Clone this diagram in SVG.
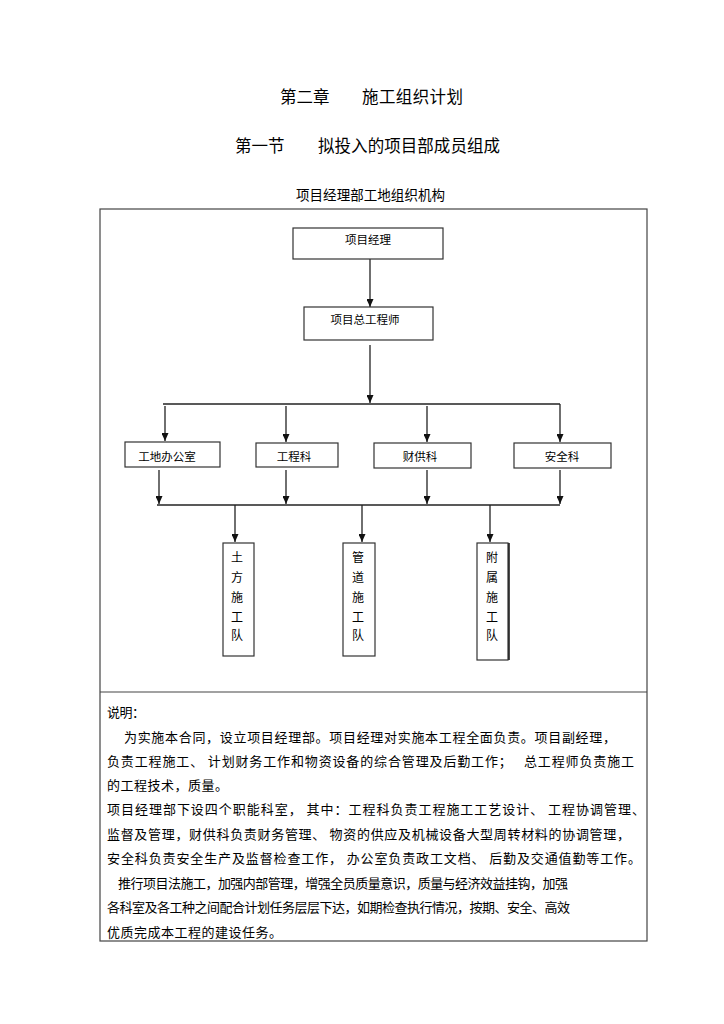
<svg xmlns="http://www.w3.org/2000/svg" width="724" height="1024" viewBox="0 0 724 1024">
<style>
  text { font-family: "Noto Sans CJK SC", "Noto Sans", sans-serif; fill: #000; }
  .t1 { font-size: 16.5px; }
  .t2 { font-size: 13.5px; }
  .bx { fill: #fff; stroke: #333; stroke-width: 1.2; }
  .lbl { font-size: 11.5px; text-anchor: middle; }
  .vl { font-size: 12px; text-anchor: middle; }
  .cn { stroke: #222; stroke-width: 1.3; fill: none; }
  .cna { stroke: #222; stroke-width: 1.3; fill: none; marker-end: url(#ah); }
  .body { font-size: 13px; }
</style>
<defs>
  <marker id="ah" markerUnits="userSpaceOnUse" markerWidth="8" markerHeight="7" refX="8" refY="3.5" orient="auto">
    <path d="M0,0 L8,3.5 L0,7 z" fill="#111"/>
  </marker>
</defs>
<rect width="724" height="1024" fill="#fff"/>

<g id="titles">
  <text class="t1" x="280" y="103">第二章</text>
  <text class="t1" x="362" y="103" textLength="101" lengthAdjust="spacing">施工组织计划</text>
  <text class="t1" x="235" y="152">第一节</text>
  <text class="t1" x="318" y="152" textLength="182" lengthAdjust="spacing">拟投入的项目部成员组成</text>
  <text class="t2" x="296" y="200" textLength="149" lengthAdjust="spacing">项目经理部工地组织机构</text>
</g>

<g id="table">
  <rect x="100" y="209" width="547" height="732" fill="none" stroke="#444" stroke-width="1.2"/>
  <line x1="100" y1="692" x2="647" y2="692" stroke="#444" stroke-width="1.2"/>
</g>

<g id="connectors">
  <line class="cna" x1="370" y1="259" x2="370" y2="307"/>
  <line class="cna" x1="370" y1="345" x2="370" y2="403"/>
  <line class="cn" x1="163" y1="404" x2="560" y2="404"/>
  <line class="cna" x1="165" y1="406" x2="165" y2="441"/>
  <line class="cna" x1="286" y1="406" x2="286" y2="442"/>
  <line class="cna" x1="427" y1="406" x2="427" y2="442"/>
  <line class="cna" x1="560" y1="404" x2="560" y2="442"/>
  <line class="cna" x1="159" y1="470" x2="159" y2="504"/>
  <line class="cna" x1="286" y1="470" x2="286" y2="504"/>
  <line class="cna" x1="427" y1="470" x2="427" y2="504"/>
  <line class="cna" x1="560" y1="470" x2="560" y2="504"/>
  <line class="cn" x1="157" y1="505" x2="560" y2="505"/>
  <line class="cna" x1="235" y1="505" x2="235" y2="542"/>
  <line class="cna" x1="362" y1="505" x2="362" y2="542"/>
  <line class="cna" x1="490" y1="505" x2="490" y2="542"/>
</g>

<g id="n-pm">
  <rect class="bx" x="293" y="228" width="150" height="31"/>
  <text class="lbl" x="368" y="244">项目经理</text>
</g>
<g id="n-chief">
  <rect class="bx" x="304" y="307" width="129" height="33"/>
  <text class="lbl" x="365" y="324">项目总工程师</text>
</g>
<g id="n-office">
  <rect class="bx" x="125" y="442" width="95" height="25"/>
  <text class="lbl" x="167" y="461">工地办公室</text>
</g>
<g id="n-eng">
  <rect class="bx" x="256" y="443" width="82" height="24"/>
  <text class="lbl" x="294" y="461">工程科</text>
</g>
<g id="n-fin">
  <rect class="bx" x="374" y="443" width="97" height="25"/>
  <text class="lbl" x="420" y="461">财供科</text>
</g>
<g id="n-safe">
  <rect class="bx" x="514" y="443" width="97" height="25"/>
  <text class="lbl" x="562" y="461">安全科</text>
</g>
<g id="n-earth">
  <rect class="bx" x="223" y="543" width="31" height="113"/>
  <text class="vl" x="237" y="562">土</text>
  <text class="vl" x="237" y="582">方</text>
  <text class="vl" x="237" y="602">施</text>
  <text class="vl" x="237" y="622">工</text>
  <text class="vl" x="237" y="640">队</text>
</g>
<g id="n-pipe">
  <rect class="bx" x="343" y="543" width="32" height="113"/>
  <text class="vl" x="358" y="562">管</text>
  <text class="vl" x="358" y="582">道</text>
  <text class="vl" x="358" y="602">施</text>
  <text class="vl" x="358" y="622">工</text>
  <text class="vl" x="358" y="640">队</text>
</g>
<g id="n-aux">
  <rect class="bx" x="477" y="543" width="31" height="117"/>
  <line x1="509" y1="543" x2="509" y2="660" stroke="#111" stroke-width="1.5"/>
  <text class="vl" x="492" y="562">附</text>
  <text class="vl" x="492" y="582">属</text>
  <text class="vl" x="492" y="602">施</text>
  <text class="vl" x="492" y="622">工</text>
  <text class="vl" x="492" y="640">队</text>
</g>

<g id="notes">
  <text class="body" x="107" y="717" textLength="38" lengthAdjust="spacing">说明：</text>
  <text class="body" x="124" y="742" textLength="492" lengthAdjust="spacing">为实施本合同，设立项目经理部。项目经理对实施本工程全面负责。项目副经理，</text>
  <text class="body" x="107" y="766" textLength="527" lengthAdjust="spacing" xml:space="preserve">负责工程施工、 计划财务工作和物资设备的综合管理及后勤工作；   总工程师负责施工</text>
  <text class="body" x="107" y="790" textLength="121" lengthAdjust="spacing">的工程技术，质量。</text>
  <text class="body" x="107" y="814" textLength="538" lengthAdjust="spacing" xml:space="preserve">项目经理部下设四个职能科室， 其中：工程科负责工程施工工艺设计、 工程协调管理、</text>
  <text class="body" x="107" y="839" textLength="523" lengthAdjust="spacing" xml:space="preserve">监督及管理，财供科负责财务管理、 物资的供应及机械设备大型周转材料的协调管理，</text>
  <text class="body" x="107" y="863" textLength="534" lengthAdjust="spacing" xml:space="preserve">安全科负责安全生产及监督检查工作， 办公室负责政工文档、 后勤及交通值勤等工作。</text>
  <text class="body" x="118" y="888" textLength="450" lengthAdjust="spacing">推行项目法施工，加强内部管理，增强全员质量意识，质量与经济效益挂钩，加强</text>
  <text class="body" x="107" y="912" textLength="463" lengthAdjust="spacing">各科室及各工种之间配合计划任务层层下达，如期检查执行情况，按期、安全、高效</text>
  <text class="body" x="107" y="937" textLength="175" lengthAdjust="spacing">优质完成本工程的建设任务。</text>
</g>
</svg>
